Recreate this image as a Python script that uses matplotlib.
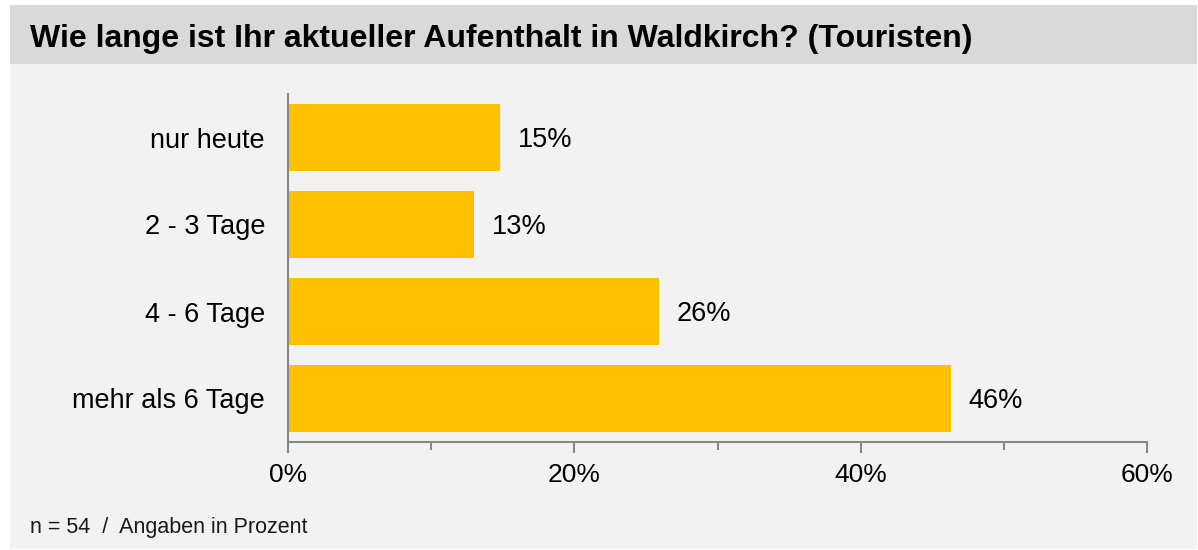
import matplotlib
matplotlib.use("Agg")
import matplotlib.pyplot as plt
from matplotlib.patches import Rectangle
from matplotlib.ticker import MultipleLocator, FuncFormatter

plt.rcParams['font.family'] = ['Liberation Sans', 'DejaVu Sans']

title = "Wie lange ist Ihr aktueller Aufenthalt in Waldkirch? (Touristen)"
categories = ["nur heute", "2 - 3 Tage", "4 - 6 Tage", "mehr als 6 Tage"]
values = [14.8, 13.0, 25.9, 46.3]
value_labels = ["15%", "13%", "26%", "46%"]
footnote = "n = 54  /  Angaben in Prozent"

W, H = 1198, 550
fig = plt.figure(figsize=(W / 100, H / 100), dpi=100)
fig.patch.set_facecolor("white")

# panel background and header band
fig.patches.append(Rectangle((10 / W, 1 - 549 / H), 1187 / W, 544 / H,
                             transform=fig.transFigure, facecolor="#f2f2f2",
                             edgecolor="none", zorder=-10))
fig.patches.append(Rectangle((10 / W, 1 - 64 / H), 1187 / W, 59 / H,
                             transform=fig.transFigure, facecolor="#d9d9d9",
                             edgecolor="none", zorder=-9))
fig.text(30 / W, 1 - 39 / H, title, fontsize=23, fontweight="bold",
         va="center", ha="left", color="black")
fig.text(30 / W, 1 - 528 / H, footnote, fontsize=15.5, va="center",
         ha="left", color="#1a1a1a")

ax = fig.add_axes([288 / W, 1 - 442 / H, (1147 - 288) / W, (442 - 94) / H])
ax.set_facecolor("none")
ax.set_zorder(5)

ypos = list(range(len(categories)))[::-1]
ax.barh(ypos, values, height=0.77, color="#FFC000", zorder=2)
for y, v, lab in zip(ypos, values, value_labels):
    ax.text(v + 1.25, y - 0.03, lab, va="center", ha="left", fontsize=19.5,
            color="black")

ax.set_xlim(0, 60)
ax.set_ylim(-0.5, 3.5)
ax.set_yticks(ypos)
ax.set_yticklabels(categories, fontsize=19.5)
ax.tick_params(axis="y", length=0, pad=16.5)
ax.xaxis.set_major_locator(MultipleLocator(20))
ax.xaxis.set_minor_locator(MultipleLocator(10))
ax.xaxis.set_major_formatter(FuncFormatter(lambda x, p: f"{x:.0f}%"))
ax.tick_params(axis="x", which="major", length=8, width=1.5, color="#888888",
               labelsize=19, pad=7)
ax.tick_params(axis="x", which="minor", length=6, width=1.5, color="#888888")
for s in ["top", "right"]:
    ax.spines[s].set_visible(False)
for s in ["left", "bottom"]:
    ax.spines[s].set_color("#888888")
    ax.spines[s].set_linewidth(1.5)

fig.savefig("out.png", dpi=100, facecolor=fig.get_facecolor())
